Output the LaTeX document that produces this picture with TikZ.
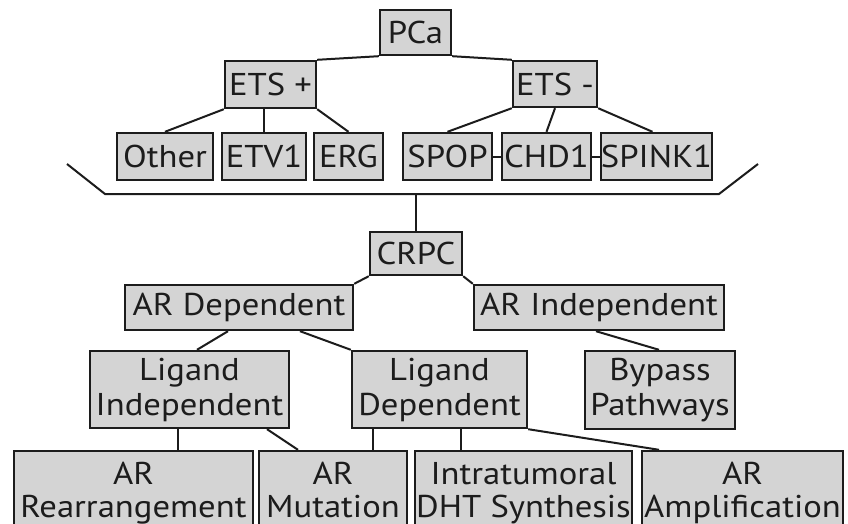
\documentclass[tikz,border=0pt]{standalone}
\usepackage{fontspec}
\setmainfont{PT Sans}[FakeStretch=1.1]
\usetikzlibrary{calc}
\definecolor{boxfill}{HTML}{D4D4D4}
\definecolor{ink}{HTML}{1C1C1C}
\tikzset{
  box/.style={draw=ink, fill=boxfill, line width=2.4pt, rectangle, inner sep=0pt,
    align=center, font=\fontsize{31.5}{35}\selectfont, text=ink},
  lbl/.style={inner sep=0pt, anchor=base, font=\fontsize{31.5}{35}\selectfont, text=ink},
  link/.style={draw=ink, line width=2pt}
}
\begin{document}
\begin{tikzpicture}[x=1pt,y=-1pt]
\useasboundingbox (0,0) rectangle (848,524);
\fill[white] (0,0) rectangle (848,524);
\clip (0,0) rectangle (848,524);
% top tree
\node[box, minimum width=71pt, minimum height=45pt] (PCa) at (415.5,32.5) {PCa};
\node[box, minimum width=91pt, minimum height=47pt] (ETSp) at (270.5,84.5) {ETS +};
\node[box, minimum width=84pt, minimum height=46pt] (ETSm) at (555,84) {ETS -};
\node[box, minimum width=96pt, minimum height=47pt] (Other) at (165,156.5) {Other};
\node[box, minimum width=84pt, minimum height=47pt] (ETV) at (264,156.5) {ETV1};
\node[box, minimum width=69pt, minimum height=47pt] (ERG) at (348.5,156.5) {ERG};
\node[box, minimum width=89pt, minimum height=47pt] (SPOP) at (447.5,156.5) {SPOP};
\node[box, minimum width=89pt, minimum height=47pt] (CHD) at (546.5,156.5) {CHD1};
\node[box, minimum width=107pt, minimum height=47pt] (SPINK) at (656.5,156.5) {SPINK1};
% bottom tree
\node[box, minimum width=92pt, minimum height=43pt] (CRPC) at (416,253.5) {CRPC};
\node[box, minimum width=228pt, minimum height=45pt] (ARdep) at (239,307.5) {AR Dependent};
\node[box, minimum width=250pt, minimum height=45pt] (ARind) at (599,307.5) {AR Independent};
\node[box, minimum width=199pt, minimum height=77pt] (LigInd) at (189.5,389.5) {Ligand\\Independent};
\node[box, minimum width=175pt, minimum height=77pt] (LigDep) at (439.5,389.5) {Ligand\\Dependent};
\node[box, minimum width=150pt, minimum height=78pt] (Bypass) at (660,390) {Bypass\\Pathways};
\node[box, minimum width=239pt, minimum height=79pt] (ARrear) at (133.5,490.5) {};
\node[box, minimum width=148pt, minimum height=79pt] (ARmut) at (333,490.5) {};
\node[box, minimum width=217pt, minimum height=79pt] (DHT) at (523.5,490.5) {};
\node[box, minimum width=201pt, minimum height=79pt] (ARamp) at (742.5,490.5) {};
\node[lbl] (ARrearA) at (133.5,484) {AR};
\node[lbl] (ARrearB) at (133.5,517) {Rearrangement};
\node[lbl] (ARmutA) at (333,484) {AR};
\node[lbl] (ARmutB) at (333,517) {Mutation};
\node[lbl] (DHTA) at (523.5,484) {Intratumoral};
\node[lbl] (DHTB) at (523.5,517) {DHT Synthesis};
\node[lbl] (ARampA) at (742.5,484) {AR};
\node[lbl] (ARampB) at (742.5,517) {Amplification};
% bracket
\coordinate (bl) at (67,164);
\coordinate (bbl) at (105,194);
\coordinate (bbr) at (719,194);
\coordinate (br) at (758,164);
\draw[link] (bl) -- (bbl) -- (bbr) -- (br);
\coordinate (bmid) at (CRPC.north |- bbl);
% connectors
\draw[link] (PCa.south west) -- (ETSp.north east);
\draw[link] (PCa.south east) -- (ETSm.north west);
\draw[link] (ETSp.south west) -- (Other.north);
\draw[link] (ETV.north) -- (ETV.north |- ETSp.south);
\draw[link] (ETSp.south east) -- (ERG.north);
\draw[link] (ETSm.south west) -- (SPOP.north);
\draw[link] (ETSm.south) -- (CHD.north);
\draw[link] (ETSm.south east) -- ([xshift=-4pt]SPINK.north);
\draw[link] (SPOP.east) -- (CHD.west);
\draw[link] (CHD.east) -- (SPINK.west);
\draw[link] (bmid) -- (CRPC.north);
\draw[link] (CRPC.south west) -- (ARdep.north east);
\draw[link] (CRPC.south east) -- (ARind.north west);
\draw[link] ([xshift=-11pt]ARdep.south) -- ([xshift=7.5pt]LigInd.north);
\draw[link] ([xshift=61pt]ARdep.south) -- (LigDep.north west);
\draw[link] ([xshift=-3pt]ARind.south) -- ([xshift=-1pt]Bypass.north);
\draw[link] ([xshift=-11.5pt]LigInd.south) -- ([xshift=-11.5pt]LigInd.south |- ARrear.north);
\draw[link] ([xshift=77.5pt]LigInd.south) -- ([xshift=-35pt]ARmut.north);
\draw[link] ([xshift=-66.5pt]LigDep.south) -- ([xshift=-66.5pt]LigDep.south |- ARmut.north);
\draw[link] ([xshift=21.5pt]LigDep.south) -- ([xshift=21.5pt]LigDep.south |- DHT.north);
\draw[link] (LigDep.south east) -- ([xshift=-83.5pt]ARamp.north);
\end{tikzpicture}
\end{document}
